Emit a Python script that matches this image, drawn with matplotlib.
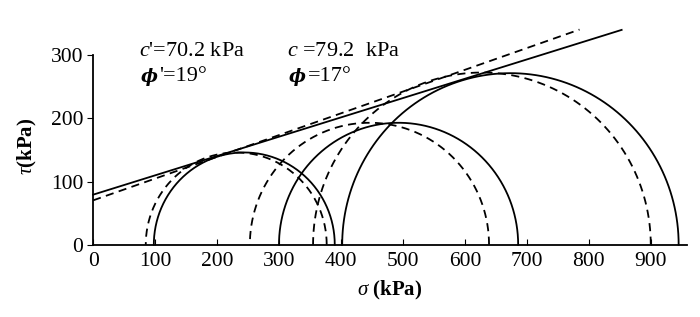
import numpy as np
import matplotlib
matplotlib.use("Agg")
import matplotlib.pyplot as plt

plt.rcParams['font.family'] = ['Liberation Serif', 'DejaVu Serif']
plt.rcParams['mathtext.fontset'] = 'custom'
plt.rcParams['mathtext.rm'] = 'Liberation Serif'
plt.rcParams['mathtext.it'] = 'Liberation Serif:italic'

# Mohr circles (sigma3, sigma1) in kPa
solid_s3 = [98, 300, 402]
solid_s1 = [390, 686, 945]
dashed_s3 = [85, 253, 355]
dashed_s1 = [377, 639, 900]

# strength envelopes
c_total, phi_total = 79.2, 17
c_eff, phi_eff = 70.2, 19
solid_env_x = [0, 853]
dashed_env_x = [0, 785]

x_ticks = [0, 100, 200, 300, 400, 500, 600, 700, 800, 900]
y_ticks = [0, 100, 200, 300]

fig = plt.figure(figsize=(7, 3.17), dpi=100)
ax = fig.add_axes([0.133, 0.228, 0.848, 0.598])

theta = np.linspace(0, np.pi, 300)

def circle(ax, s3, s1, ls):
    c = (s3 + s1) / 2
    r = (s1 - s3) / 2
    ax.plot(c + r * np.cos(theta), r * np.sin(theta), color='black',
            lw=1.3, ls=ls, clip_on=False)

for a, b in zip(solid_s3, solid_s1):
    circle(ax, a, b, '-')
for a, b in zip(dashed_s3, dashed_s1):
    circle(ax, a, b, (0, (4.5, 3)))

sx = np.array(solid_env_x)
ax.plot(sx, c_total + np.tan(np.radians(phi_total)) * sx, color='black',
        lw=1.3, clip_on=False)
dx = np.array(dashed_env_x)
ax.plot(dx, c_eff + np.tan(np.radians(phi_eff)) * dx, color='black',
        lw=1.3, ls=(0, (4.5, 3)), clip_on=False)

ax.set_xlim(0, 958)
ax.set_ylim(0, 300)
ax.set_xticks(x_ticks)
ax.set_yticks(y_ticks)
ax.tick_params(axis='x', direction='in', length=4, labelsize=15.5, pad=5)
ax.tick_params(axis='y', direction='out', length=4, labelsize=15.5, pad=3)
for s in ['top', 'right']:
    ax.spines[s].set_visible(False)
ax.spines['left'].set_linewidth(1.3)
ax.spines['bottom'].set_linewidth(1.3)

ax.set_xlabel(r"$\sigma$ (kPa)", fontsize=15, fontweight='bold', labelpad=6)
ax.text(-0.11, 0.52, r"$\tau$(kPa)", transform=ax.transAxes, rotation=90,
        fontsize=15, fontweight='bold', ha='center', va='center')

ax.text(0.077, 1.02, r"$c$'=70.2 kPa", transform=ax.transAxes, fontsize=16,
        va='center', ha='left')
ax.text(0.327, 1.02, r"$c$ =79.2  kPa", transform=ax.transAxes, fontsize=16,
        va='center', ha='left')

phi_kw = dict(transform=ax.transAxes, fontsize=13, va='center', ha='left',
              family='DejaVu Serif', style='italic', fontweight='bold')
ax.text(0.080, 0.885, "ϕ", **phi_kw)
ax.text(0.111, 0.885, "'=19°", transform=ax.transAxes, fontsize=16,
        va='center', ha='left')
ax.text(0.330, 0.885, "ϕ", **phi_kw)
ax.text(0.362, 0.885, "=17°", transform=ax.transAxes, fontsize=16,
        va='center', ha='left')

fig.savefig("out.png", dpi=100)
